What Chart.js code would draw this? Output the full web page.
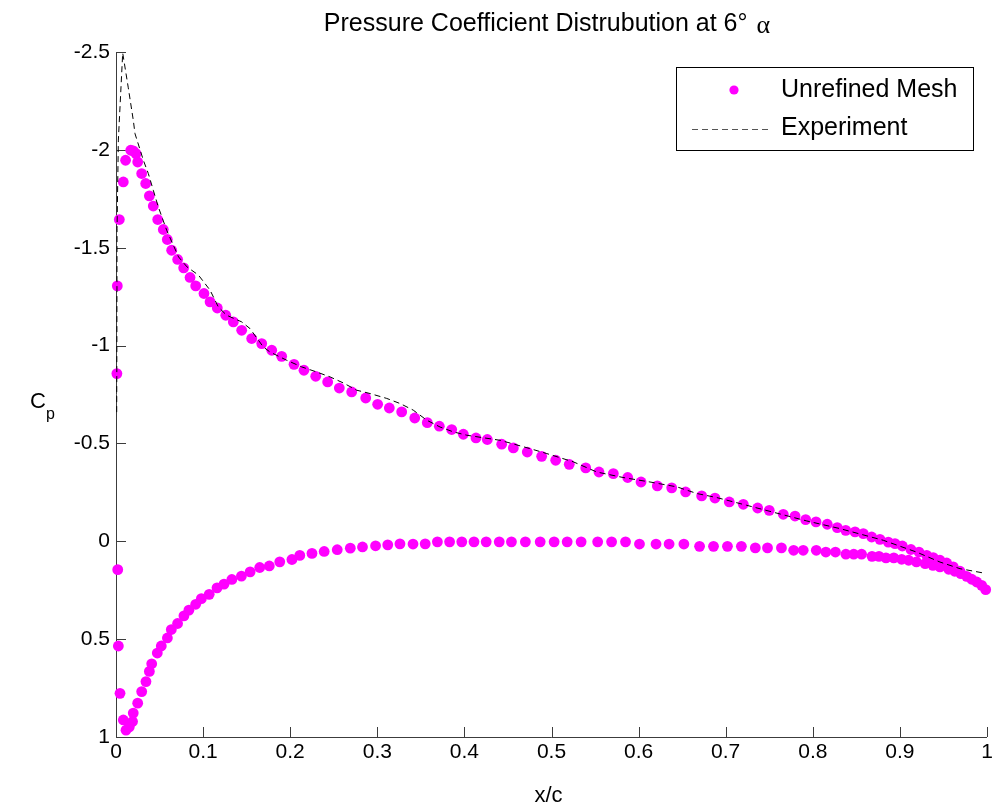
<!DOCTYPE html>
<html>
<head>
<meta charset="utf-8">
<script src="https://cdn.jsdelivr.net/npm/chart.js@4/dist/chart.umd.min.js"></script>
<style>
  html, body { margin: 0; padding: 0; background: #ffffff; }
  #wrap { width: 994px; height: 811px; }
</style>
</head>
<body>
<div id="wrap"><canvas id="cp" width="994" height="811"></canvas></div>
<script>
// Suction side (upper surface), leading edge to trailing edge
const upperX = [0.001, 0.0015, 0.0038, 0.0084, 0.011, 0.0169, 0.0199, 0.023, 0.0249, 0.0295,
  0.0341, 0.0383, 0.0428, 0.0479, 0.0543, 0.0589, 0.0639, 0.0708, 0.0777, 0.085,
  0.0915, 0.101, 0.108, 0.1163, 0.126, 0.1347, 0.1443, 0.1558, 0.1673, 0.1788,
  0.1902, 0.2044, 0.2158, 0.2293, 0.243, 0.2564, 0.2706, 0.2867, 0.3004, 0.3138,
  0.328, 0.343, 0.3574, 0.3712, 0.3854, 0.3988, 0.4133, 0.4263, 0.4428, 0.4562,
  0.4722, 0.4887, 0.5048, 0.5204, 0.5393, 0.5545, 0.571, 0.5875, 0.6028, 0.6215,
  0.638, 0.654, 0.6724, 0.6877, 0.7041, 0.7202, 0.7367, 0.75, 0.7661, 0.7796,
  0.7918, 0.8037, 0.8166, 0.8281, 0.8378, 0.8485, 0.858, 0.8676, 0.8771, 0.8867,
  0.8944, 0.9028, 0.9127, 0.9219, 0.9308, 0.9383, 0.946, 0.9537, 0.9613, 0.969,
  0.9767, 0.9824, 0.9882, 0.9939, 0.9985];
const upperCp = [-0.857, -1.305, -1.644, -1.836, -1.947, -1.998, -1.995, -1.981, -1.938, -1.879,
  -1.828, -1.765, -1.713, -1.644, -1.593, -1.542, -1.487, -1.44, -1.397, -1.348,
  -1.305, -1.266, -1.223, -1.192, -1.155, -1.121, -1.078, -1.036, -1.01, -0.976,
  -0.945, -0.904, -0.874, -0.843, -0.814, -0.783, -0.763, -0.732, -0.7, -0.681,
  -0.661, -0.63, -0.606, -0.588, -0.571, -0.547, -0.528, -0.52, -0.496, -0.477,
  -0.456, -0.434, -0.414, -0.393, -0.375, -0.354, -0.346, -0.326, -0.303, -0.283,
  -0.273, -0.252, -0.232, -0.221, -0.201, -0.189, -0.17, -0.158, -0.138, -0.129,
  -0.111, -0.099, -0.087, -0.07, -0.056, -0.048, -0.039, -0.022, -0.01, 0.004,
  0.012, 0.024, 0.042, 0.055, 0.072, 0.083, 0.097, 0.111, 0.131, 0.153,
  0.179, 0.194, 0.208, 0.225, 0.247];

// Pressure side (lower surface), leading edge to trailing edge
const lowerX = [0.002, 0.0027, 0.0046, 0.0084, 0.0115, 0.0153, 0.019, 0.0198, 0.0249, 0.0295,
  0.0344, 0.0383, 0.041, 0.0474, 0.052, 0.059, 0.0635, 0.0707, 0.078, 0.0837,
  0.0915, 0.098, 0.107, 0.116, 0.124, 0.133, 0.144, 0.154, 0.165, 0.176,
  0.188, 0.202, 0.211, 0.225, 0.239, 0.254, 0.269, 0.283, 0.298, 0.312,
  0.326, 0.341, 0.355, 0.369, 0.383, 0.397, 0.411, 0.425, 0.44, 0.454,
  0.47, 0.487, 0.503, 0.518, 0.534, 0.553, 0.569, 0.585, 0.601, 0.62,
  0.635, 0.652, 0.67, 0.686, 0.702, 0.718, 0.734, 0.748, 0.764, 0.778,
  0.789, 0.804, 0.815, 0.826, 0.838, 0.847, 0.856, 0.868, 0.876, 0.884,
  0.893, 0.902, 0.91, 0.919, 0.929, 0.938, 0.946, 0.956, 0.963, 0.97];
const lowerCp = [0.145, 0.535, 0.777, 0.913, 0.965, 0.948, 0.921, 0.878, 0.827, 0.768,
  0.717, 0.665, 0.626, 0.571, 0.535, 0.494, 0.451, 0.42, 0.381, 0.352,
  0.322, 0.293, 0.271, 0.238, 0.219, 0.195, 0.178, 0.156, 0.134, 0.126,
  0.105, 0.093, 0.072, 0.062, 0.052, 0.043, 0.035, 0.029, 0.023, 0.018,
  0.013, 0.014, 0.013, 0.003, 0.003, 0.003, 0.003, 0.003, 0.003, 0.003,
  0.003, 0.003, 0.003, 0.003, 0.003, 0.003, 0.003, 0.003, 0.014, 0.014,
  0.014, 0.014, 0.026, 0.026, 0.026, 0.026, 0.034, 0.034, 0.034, 0.046,
  0.046, 0.046, 0.055, 0.055, 0.066, 0.066, 0.066, 0.077, 0.077, 0.085,
  0.085, 0.092, 0.097, 0.105, 0.114, 0.123, 0.131, 0.143, 0.153, 0.165];

// Experimental suction-side distribution
const expX = [0.0008, 0.001, 0.0012, 0.0027, 0.0077, 0.014, 0.0199, 0.0218, 0.0314, 0.0371,
  0.0428, 0.0486, 0.0582, 0.0718, 0.0815, 0.0947, 0.108, 0.1175, 0.127, 0.1443,
  0.1538, 0.1691, 0.1768, 0.196, 0.2132, 0.2304, 0.2457, 0.261, 0.2763, 0.2916,
  0.3108, 0.3261, 0.3413, 0.3567, 0.372, 0.3873, 0.4026, 0.441, 0.475, 0.494,
  0.525, 0.552, 0.582, 0.613, 0.644, 0.667, 0.69, 0.724, 0.793, 0.831,
  0.881, 0.919, 0.946, 0.969, 0.996];
const expCp = [-0.66, -1.0, -1.6, -2.05, -2.495, -2.32, -2.15, -2.083, -1.947, -1.879,
  -1.794, -1.708, -1.589, -1.453, -1.402, -1.36, -1.283, -1.197, -1.155, -1.121,
  -1.087, -0.993, -0.967, -0.925, -0.891, -0.865, -0.84, -0.809, -0.772, -0.755,
  -0.73, -0.704, -0.67, -0.619, -0.584, -0.559, -0.542, -0.516, -0.474, -0.449,
  -0.406, -0.354, -0.326, -0.303, -0.278, -0.244, -0.223, -0.184, -0.104, -0.065,
  -0.005, 0.055, 0.106, 0.14, 0.162];

const xTicks = [0, 0.1, 0.2, 0.3, 0.4, 0.5, 0.6, 0.7, 0.8, 0.9, 1];
const xTickLabels = ['0', '0.1', '0.2', '0.3', '0.4', '0.5', '0.6', '0.7', '0.8', '0.9', '1'];
const yTicks = [-2.5, -2, -1.5, -1, -0.5, 0, 0.5, 1];
const yTickLabels = ['-2.5', '-2', '-1.5', '-1', '-0.5', '0', '0.5', '1'];

const seriesNames = ['Unrefined Mesh', 'Experiment'];
const titleText = 'Pressure Coefficient Distrubution at 6\u00B0';

const toPoints = (xs, ys) => xs.map((x, i) => ({ x: x, y: ys[i] }));

const MAGENTA = '#ff00ff';
const AXIS = '#3c3c3c';
const SANS = '"Liberation Sans", Arial, Helvetica, sans-serif';
const SERIF = '"Liberation Serif", "DejaVu Serif", serif';

// Axes with inward ticks (left and bottom only), labels, title and boxed legend
const matlabAxes = {
  id: 'matlabAxes',
  beforeDatasetsDraw(chart) {
    const { ctx, chartArea: a, scales } = chart;
    ctx.save();
    ctx.strokeStyle = AXIS;
    ctx.lineWidth = 1;
    ctx.beginPath();
    ctx.moveTo(a.left + 0.5, a.top);
    ctx.lineTo(a.left + 0.5, a.bottom + 0.5);
    ctx.lineTo(a.right, a.bottom + 0.5);
    ctx.stroke();
    ctx.beginPath();
    yTicks.forEach(v => {
      const py = Math.round(scales.y.getPixelForValue(v)) + 0.5;
      ctx.moveTo(a.left, py);
      ctx.lineTo(a.left + 10, py);
    });
    xTicks.forEach(v => {
      const px = Math.round(scales.x.getPixelForValue(v)) + 0.5;
      ctx.moveTo(px, a.bottom);
      ctx.lineTo(px, a.bottom - 10);
    });
    ctx.stroke();
    ctx.restore();
  },
  afterDraw(chart) {
    const { ctx, chartArea: a, scales } = chart;
    ctx.save();
    ctx.fillStyle = '#000';

    // tick labels
    ctx.font = '21px ' + SANS;
    ctx.textAlign = 'right';
    ctx.textBaseline = 'middle';
    yTicks.forEach((v, i) => {
      ctx.fillText(yTickLabels[i], a.left - 6, scales.y.getPixelForValue(v));
    });
    ctx.textAlign = 'center';
    ctx.textBaseline = 'top';
    xTicks.forEach((v, i) => {
      ctx.fillText(xTickLabels[i], scales.x.getPixelForValue(v), a.bottom + 5);
    });

    // axis titles
    ctx.font = '22px ' + SANS;
    ctx.textBaseline = 'alphabetic';
    ctx.fillText('x/c', (a.left + a.right) / 2 - 3, a.bottom + 65);
    ctx.textAlign = 'left';
    ctx.fillText('C', 30, 408);
    ctx.font = '16px ' + SANS;
    ctx.fillText('p', 46, 419);

    // title
    ctx.font = '25px ' + SANS;
    const tw = ctx.measureText(titleText).width;
    ctx.font = '26px ' + SERIF;
    const aw = ctx.measureText('\u03B1').width;
    const gap = 9;
    const x0 = 547 - (tw + gap + aw) / 2;
    ctx.font = '25px ' + SANS;
    ctx.fillText(titleText, x0, 31);
    ctx.font = '26px ' + SERIF;
    ctx.fillText('\u03B1', x0 + tw + gap, 33);

    // legend box
    const bx = a.right - 311, by = 67, bw = 297, bh = 83;
    ctx.fillStyle = '#fff';
    ctx.fillRect(bx, by, bw, bh);
    ctx.strokeStyle = '#000';
    ctx.lineWidth = 1;
    ctx.strokeRect(bx + 0.5, by + 0.5, bw, bh);

    ctx.fillStyle = MAGENTA;
    ctx.beginPath();
    ctx.arc(bx + 58, by + 23, 4.6, 0, Math.PI * 2);
    ctx.fill();

    ctx.strokeStyle = '#555';
    ctx.setLineDash([6, 4]);
    ctx.beginPath();
    ctx.moveTo(bx + 16, by + 62.5);
    ctx.lineTo(bx + 96, by + 62.5);
    ctx.stroke();
    ctx.setLineDash([]);

    ctx.fillStyle = '#000';
    ctx.font = '25px ' + SANS;
    ctx.textAlign = 'left';
    ctx.textBaseline = 'middle';
    ctx.fillText(seriesNames[0], bx + 105, by + 23);
    ctx.fillText(seriesNames[1], bx + 105, by + 61);
    ctx.restore();
  }
};

new Chart(document.getElementById('cp'), {
  type: 'scatter',
  data: {
    datasets: [
      {
        label: seriesNames[1],
        data: toPoints(expX, expCp),
        showLine: true,
        borderColor: '#000000',
        borderWidth: 1,
        borderDash: [6, 4],
        pointRadius: 0,
        pointHoverRadius: 0,
        tension: 0,
        clip: false,
        order: 0
      },
      {
        label: seriesNames[0],
        data: toPoints(upperX, upperCp).concat(toPoints(lowerX, lowerCp)),
        showLine: false,
        backgroundColor: MAGENTA,
        pointBackgroundColor: MAGENTA,
        pointBorderWidth: 0,
        pointRadius: 5.4,
        pointHoverRadius: 5.4,
        clip: false,
        order: 1
      }
    ]
  },
  options: {
    responsive: false,
    animation: false,
    layout: { padding: { left: 116, right: 7, top: 52, bottom: 74 } },
    scales: {
      x: { type: 'linear', min: 0, max: 1, display: false },
      y: { type: 'linear', min: -2.5, max: 1, reverse: true, display: false }
    },
    plugins: {
      legend: { display: false },
      title: { display: false },
      tooltip: { enabled: false }
    },
    events: []
  },
  plugins: [matlabAxes]
});
</script>
</body>
</html>
